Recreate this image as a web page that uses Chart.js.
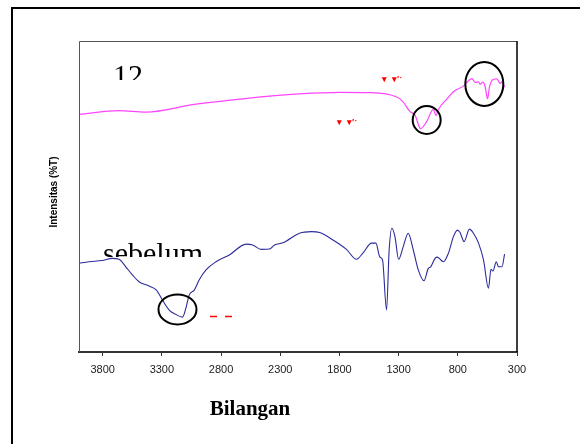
<!DOCTYPE html>
<html>
<head>
<meta charset="utf-8">
<script src="https://cdn.jsdelivr.net/npm/chart.js@4.4.1/dist/chart.umd.min.js"></script>
<style>
  html, body { margin: 0; padding: 0; background: #fff; }
  #wrap { width: 580px; height: 444px; }
</style>
</head>
<body>
<div id="wrap"><canvas id="ftirChart" width="580" height="444"></canvas></div>
<script>
// bilangan gelombang (cm-1) dan intensitas (%T, skala relatif)
const xTicks = [3800, 3300, 2800, 2300, 1800, 1300, 800, 300];

const sesudahWn  = [4000, 3662, 3436, 3012, 2600, 2137, 1797, 1543, 1317, 1264, 1204, 1162, 1114, 1063, 1007, 984, 964, 893, 837, 753, 710, 681, 653, 625, 611, 588, 569, 549, 532, 498, 470, 442, 427, 405];
const sesudahVal = [76.4, 77.6, 77.1, 79.7, 81.5, 83.0, 83.5, 83.4, 82.0, 80.5, 77.3, 76.2, 71.8, 74.1, 78.0, 76.0, 78.0, 81.3, 83.7, 85.5, 87.2, 87.9, 86.7, 86.9, 86.1, 86.8, 85.3, 81.4, 85.3, 87.7, 87.8, 86.4, 86.9, 85.1];

const sebelumWn  = [4000, 3916, 3804, 3719, 3662, 3605, 3549, 3493, 3408, 3346, 3295, 3238, 3182, 3126, 3097, 3069, 3026, 2984, 2927, 2843, 2730, 2588, 2532, 2461, 2391, 2348, 2278, 2137, 2037, 1967, 1854, 1741, 1656, 1600, 1529, 1492, 1459, 1436, 1402, 1380, 1357, 1331, 1300, 1261, 1219, 1176, 1134, 1086, 1049, 1029, 992, 973, 922, 880, 837, 803, 781, 747, 702, 668, 625, 583, 541, 520, 503, 475, 456, 427, 405];
const sebelumVal = [28.5, 29.0, 29.4, 30.1, 29.8, 27.4, 24.8, 22.6, 21.2, 19.9, 16.7, 13.5, 12.1, 11.2, 14.1, 18.3, 19.9, 23.2, 26.4, 29.0, 31.2, 34.7, 34.4, 33.0, 33.1, 34.4, 35.1, 38.2, 38.7, 38.4, 36.0, 33.0, 29.8, 31.9, 35.0, 35.0, 30.6, 29.6, 13.5, 32.8, 39.8, 37.1, 29.8, 33.9, 38.2, 32.8, 26.4, 22.9, 26.9, 27.4, 30.1, 30.5, 29.0, 31.7, 37.1, 39.2, 38.4, 35.5, 39.5, 38.2, 35.0, 29.6, 20.5, 26.6, 26.0, 29.0, 27.4, 27.4, 31.5];

// lingkaran penanda puncak: [bilangan gelombang, intensitas, rx, ry]
const circles = [[1063, 74.6, 14, 14], [576, 86.2, 19, 22], [3168, 13.7, 19, 15]];

const toPoints = (xs, ys) => xs.map((x, i) => ({ x: x, y: ys[i] }));

const decor = {
  id: 'decor',
  beforeDraw(chart) {
    const ctx = chart.ctx;
    ctx.save();
    ctx.fillStyle = '#fff';
    ctx.fillRect(0, 0, chart.width, chart.height);
    ctx.restore();
  },
  afterDraw(chart) {
    const ctx = chart.ctx;
    const a = chart.chartArea;
    const xs = chart.scales.x, ys = chart.scales.y;
    ctx.save();

    // bingkai luar
    ctx.strokeStyle = '#000';
    ctx.lineWidth = 2;
    ctx.strokeRect(12, 8, 620, 480);

    // kotak plot
    ctx.strokeStyle = '#555';
    ctx.lineWidth = 1;
    ctx.beginPath();
    ctx.moveTo(a.left + 0.5, a.bottom);
    ctx.lineTo(a.left + 0.5, a.top + 0.5);
    ctx.lineTo(a.right, a.top + 0.5);
    ctx.stroke();
    ctx.strokeStyle = '#000';
    ctx.lineWidth = 1.5;
    ctx.beginPath();
    ctx.moveTo(a.right, a.top);
    ctx.lineTo(a.right, a.bottom);
    ctx.stroke();

    // lingkaran
    ctx.strokeStyle = '#000';
    ctx.lineWidth = 2;
    circles.forEach(c => {
      ctx.beginPath();
      ctx.ellipse(xs.getPixelForValue(c[0]), ys.getPixelForValue(c[1]), c[2], c[3], 0, 0, Math.PI * 2);
      ctx.stroke();
    });

    // teks terpotong "12" dan "sebelum"
    ctx.fillStyle = '#000';
    ctx.font = '30px "Liberation Serif", "Times New Roman", serif';
    ctx.textBaseline = 'alphabetic';
    ctx.save();
    ctx.beginPath(); ctx.rect(100, 55, 60, 25); ctx.clip();
    ctx.fillText('12', 113, 85);
    ctx.restore();
    ctx.save();
    ctx.beginPath(); ctx.rect(95, 235, 130, 22); ctx.clip();
    ctx.fillText('sebelum', 103, 263);
    ctx.restore();

    // tanda merah
    ctx.fillStyle = '#f00';
    ctx.font = 'bold 9px "Liberation Sans", Arial, sans-serif';
    ctx.textBaseline = 'middle';
    ctx.fillText('\u25BE  \u25BE\u2032\u02D1', 382, 80);
    ctx.fillText('\u25BE  \u25BE\u2032\u02D1', 337, 123);
    ctx.strokeStyle = '#f00';
    ctx.lineWidth = 1.5;
    ctx.beginPath();
    ctx.moveTo(210, 316.5); ctx.lineTo(217, 316.5);
    ctx.moveTo(225, 316.5); ctx.lineTo(232, 316.5);
    ctx.stroke();

    // judul sumbu
    ctx.fillStyle = '#000';
    ctx.textAlign = 'center';
    ctx.font = 'bold 21px "Liberation Serif", "Times New Roman", serif';
    ctx.fillText('Bilangan', 250, 410);
    ctx.save();
    ctx.translate(54, 192);
    ctx.rotate(-Math.PI / 2);
    ctx.font = 'bold 10px "Liberation Sans", Arial, sans-serif';
    ctx.fillText('Intensitas (%T)', 0, 0);
    ctx.restore();

    ctx.restore();
  }
};

const ftirCtx = document.getElementById('ftirChart').getContext('2d');
const ftirChart = new Chart(ftirCtx, {
  type: 'line',
  data: {
    datasets: [{
      label: 'sesudah',
      data: toPoints(sesudahWn, sesudahVal),
      borderColor: '#ff44ff',
      borderWidth: 1.2,
      pointRadius: 0,
      fill: false,
      cubicInterpolationMode: 'monotone'
    }, {
      label: 'sebelum',
      data: toPoints(sebelumWn, sebelumVal),
      borderColor: '#2b2b9a',
      borderWidth: 1.1,
      pointRadius: 0,
      fill: false,
      cubicInterpolationMode: 'monotone'
    }]
  },
  options: {
    responsive: false,
    animation: false,
    layout: { padding: { left: 79, right: 63, top: 41, bottom: 0 } },
    plugins: { legend: { display: false }, tooltip: { enabled: false } },
    scales: {
      x: {
        type: 'linear',
        reverse: true,
        min: 300,
        max: 4000,
        afterFit: s => { s.height = 92; },
        afterBuildTicks: s => { s.ticks = xTicks.map(v => ({ value: v })); },
        grid: { display: true, drawOnChartArea: false, drawTicks: true, tickLength: 4, color: '#333' },
        border: { display: true, color: '#333', width: 2 },
        ticks: {
          padding: 7,
          maxRotation: 0,
          autoSkip: false,
          color: '#222',
          font: { family: '"Liberation Sans", Arial, sans-serif', size: 11 },
          callback: v => String(v)
        }
      },
      y: {
        display: false,
        min: 0,
        max: 100
      }
    }
  },
  plugins: [decor]
});
</script>
</body>
</html>
